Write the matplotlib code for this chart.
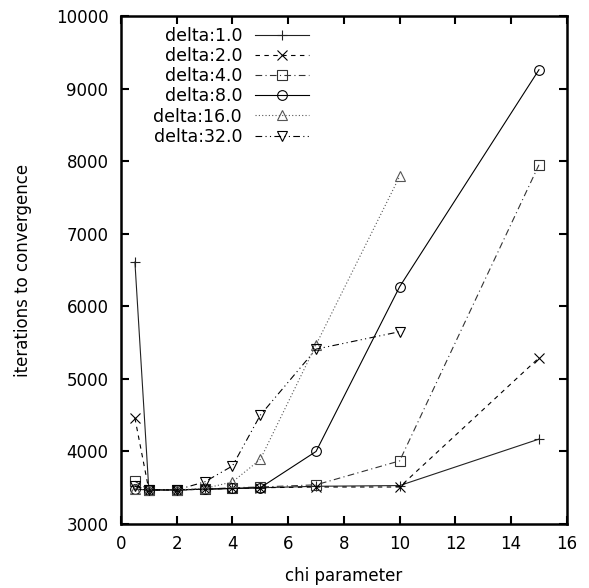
import matplotlib
matplotlib.use('Agg')
import matplotlib.pyplot as plt

# ---- data ----
chi = [0.5, 1, 2, 3, 4, 5, 7, 10, 15]

delta_1 = [6610, 3470, 3470, 3480, 3490, 3500, 3520, 3530, 4170]
delta_2 = [4460, 3470, 3470, 3480, 3490, 3500, 3510, 3510, 5290]
delta_4 = [3590, 3470, 3470, 3480, 3500, 3510, 3540, 3870, 7950]
delta_8 = [3480, 3470, 3470, 3480, 3490, 3500, 4000, 6270, 9260]
delta_16 = [3480, 3470, 3470, 3490, 3580, 3890, 5470, 7790]
delta_32 = [3520, 3470, 3470, 3580, 3800, 4500, 5410, 5650]

labels = ['delta:1.0', 'delta:2.0', 'delta:4.0', 'delta:8.0', 'delta:16.0', 'delta:32.0']
x_ticks = [0, 2, 4, 6, 8, 10, 12, 14, 16]
y_ticks = [3000, 4000, 5000, 6000, 7000, 8000, 9000, 10000]

plt.rcParams['font.family'] = ['DejaVu Sans']
fig = plt.figure(figsize=(5.89, 5.88), dpi=100)
ax = fig.add_axes([0.2054, 0.1088, 0.757, 0.864])

series = [delta_1, delta_2, delta_4, delta_8, delta_16, delta_32]
markers = ['+', 'x', 's', 'o', '^', 'v']
styles = ['-', (0, (4, 4)), (0, (6, 3, 1, 3)), '-', (0, (1, 2)), (0, (6, 3, 1, 3, 1, 3))]
colors = ['#222222', 'black', '#333333', 'black', '#555555', 'black']

for ys, mk, ls, c, lab in zip(series, markers, styles, colors, labels):
    ax.plot(chi[:len(ys)], ys, linestyle=ls, marker=mk, color=c, linewidth=0.8,
            markersize=7, markerfacecolor='none', markeredgecolor=c,
            markeredgewidth=0.8, label=lab)

ax.set_xlim(0, 16)
ax.set_ylim(3000, 10000)
ax.set_xticks(x_ticks)
ax.set_yticks(y_ticks)
ax.tick_params(direction='in', length=6, width=1.5, top=True, right=True,
               labelsize=12)
ax.tick_params(axis='y', pad=9)
ax.tick_params(axis='x', pad=8)
for sp in ax.spines.values():
    sp.set_linewidth(1.8)

ax.set_xlabel('chi parameter', fontsize=12, labelpad=10)
ax.set_ylabel('iterations to convergence', fontsize=12, labelpad=17)

# markerfirst=False right-aligns the rows, so labels line up on the right
ax.legend(loc='upper right', bbox_to_anchor=(0.4215, 0.978), markerfirst=False,
          frameon=False, fontsize=12.5, handlelength=3.1, labelspacing=0.12,
          handletextpad=0.75, borderpad=0.0, borderaxespad=0.0)

fig.savefig('out.png', dpi=100)
